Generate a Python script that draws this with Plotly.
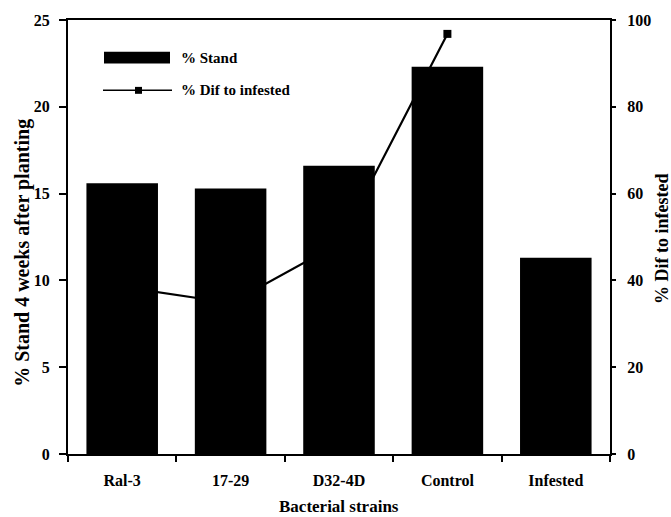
import plotly.graph_objects as go

categories = ["Ral-3", "17-29", "D32-4D", "Control", "Infested"]
stand_pct = [15.6, 15.3, 16.6, 22.3, 11.3]
dif_categories = ["Ral-3", "17-29", "D32-4D", "Control"]
dif_to_infested = [38.5, 34.8, 48.5, 96.8]
left_ticks = [0, 5, 10, 15, 20, 25]
right_ticks = [0, 20, 40, 60, 80, 100]

FONT = "Liberation Serif"

fig = go.Figure()
fig.add_trace(go.Bar(
    x=categories, y=stand_pct, name="% Stand",
    marker=dict(color="black", line=dict(width=0)),
    width=0.66, showlegend=False,
))
fig.add_trace(go.Scatter(
    x=dif_categories, y=dif_to_infested, name="% Dif to infested",
    mode="lines+markers", yaxis="y2",
    line=dict(color="black", width=2.2),
    marker=dict(symbol="square", size=8, color="black"),
    showlegend=False,
))

tickfont = dict(family=FONT, size=16, color="black", weight="bold")

fig.update_layout(
    width=671, height=517, autosize=False,
    margin=dict(l=68, r=61, t=16, b=63),
    paper_bgcolor="white", plot_bgcolor="white",
    font=dict(family=FONT, color="black"),
    xaxis=dict(
        type="category", categoryorder="array", categoryarray=categories,
        range=[-0.5, 4.5], showline=True, linecolor="black", linewidth=2,
        mirror=True, ticks="outside", tickson="boundaries", ticklen=6,
        tickcolor="black", tickwidth=1.5, tickfont=tickfont,
        ticklabelstandoff=11, showgrid=False, zeroline=False,
    ),
    yaxis=dict(
        range=[0, 25], tickvals=left_ticks, showline=True, linecolor="black",
        linewidth=2, ticks="outside", ticklen=7, tickcolor="black",
        tickwidth=1.5, tickfont=tickfont, ticklabelstandoff=6,
        showgrid=False, zeroline=False,
    ),
    yaxis2=dict(
        range=[0, 100], tickvals=right_ticks, overlaying="y", side="right",
        showline=True, linecolor="black", linewidth=2, ticks="outside",
        ticklen=4, tickcolor="black", tickwidth=1.5, tickfont=tickfont,
        ticklabelstandoff=8, showgrid=False, zeroline=False,
    ),
    annotations=[
        dict(text="% Stand 4 weeks after planting", textangle=-90,
             xref="paper", yref="paper", x=(23 - 68) / 542, y=(454 - 251) / 438,
             xanchor="center", yanchor="middle", showarrow=False,
             font=dict(family=FONT, size=20, color="black", weight="bold")),
        dict(text="% Dif to infested", textangle=-90,
             xref="paper", yref="paper", x=(662 - 68) / 542, y=(454 - 237) / 438,
             xanchor="center", yanchor="middle", showarrow=False,
             font=dict(family=FONT, size=18, color="black", weight="bold")),
        dict(text="Bacterial strains",
             xref="paper", yref="paper", x=0.5, y=(454 - 507) / 438,
             xanchor="center", yanchor="middle", showarrow=False,
             font=dict(family=FONT, size=17, color="black", weight="bold")),
        # legend texts
        dict(text="% Stand", xref="paper", yref="paper",
             x=(179 - 68) / 542, y=(454 - 54) / 438,
             xanchor="left", yanchor="middle", showarrow=False,
             font=dict(family=FONT, size=15, color="black", weight="bold")),
        dict(text="% Dif to infested", xref="paper", yref="paper",
             x=(179 - 68) / 542, y=(454 - 87) / 438,
             xanchor="left", yanchor="middle", showarrow=False,
             font=dict(family=FONT, size=15, color="black", weight="bold")),
    ],
    shapes=[
        dict(type="rect", xref="paper", yref="paper",
             x0=(104 - 68) / 542, x1=(170 - 68) / 542,
             y0=(454 - 60) / 438, y1=(454 - 48) / 438,
             fillcolor="black", line=dict(width=0)),
        dict(type="line", xref="paper", yref="paper",
             x0=(103 - 68) / 542, x1=(172 - 68) / 542,
             y0=(454 - 87) / 438, y1=(454 - 87) / 438,
             line=dict(color="black", width=1.5)),
        dict(type="rect", xref="paper", yref="paper",
             x0=(135 - 68) / 542, x1=(142 - 68) / 542,
             y0=(454 - 90.5) / 438, y1=(454 - 83.5) / 438,
             fillcolor="black", line=dict(width=0)),
    ],
)

fig.write_html(
    "out.html",
    config={"displayModeBar": False},
    post_script="document.body.style.margin='0';document.body.style.padding='0';",
)
